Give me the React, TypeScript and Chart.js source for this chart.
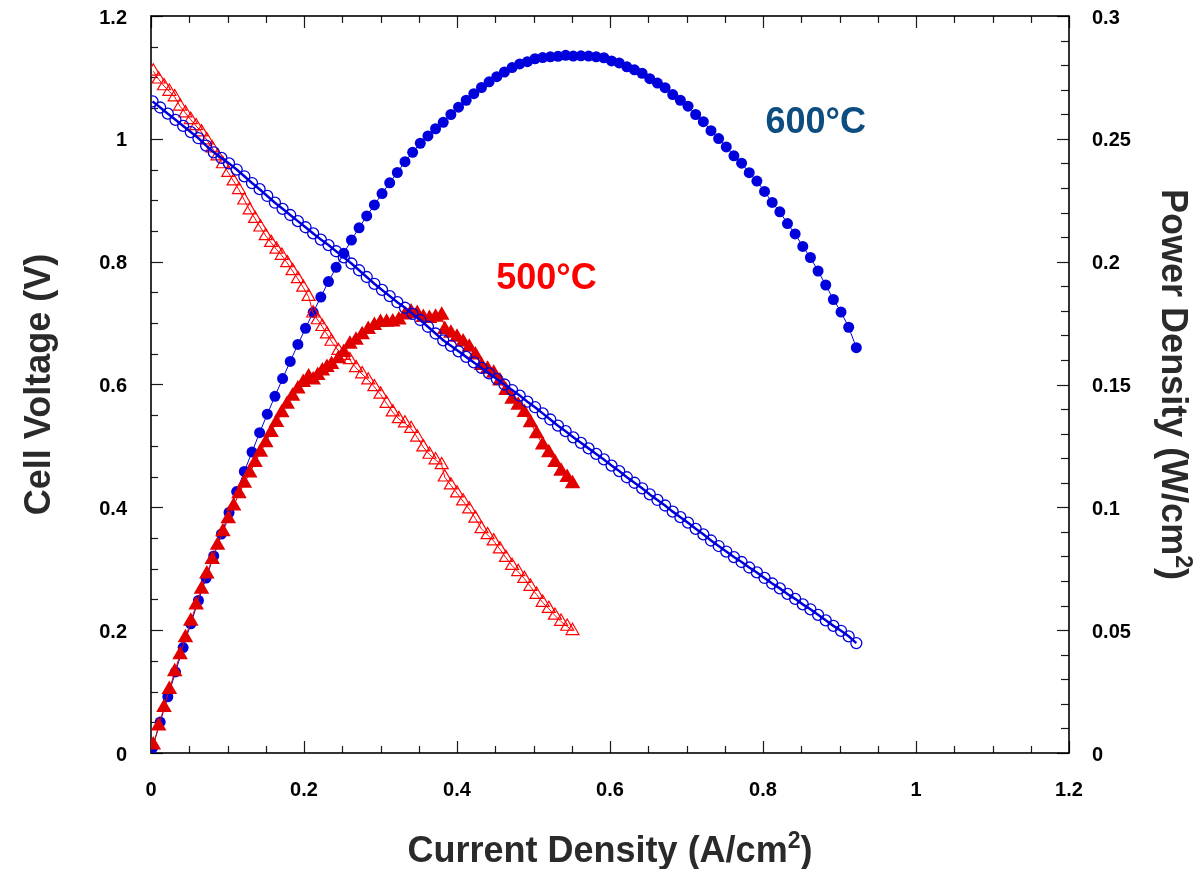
import { useEffect, useRef } from "react";
import { Chart, registerables } from "chart.js";

Chart.register(...registerables);

const FONT = "'Liberation Sans', Arial, Helvetica, sans-serif";

// 600 °C polarisation data
const currentDensity600 = [
  0.002, 0.012, 0.022, 0.032, 0.042, 0.052, 0.062, 0.072, 0.082, 0.092,
  0.102, 0.112, 0.122, 0.132, 0.142, 0.152, 0.162, 0.172, 0.182, 0.192,
  0.202, 0.212, 0.222, 0.232, 0.242, 0.252, 0.262, 0.272, 0.282, 0.292,
  0.302, 0.312, 0.322, 0.332, 0.342, 0.352, 0.362, 0.372, 0.382, 0.392,
  0.402, 0.412, 0.422, 0.432, 0.442, 0.452, 0.462, 0.472, 0.482, 0.492,
  0.502, 0.512, 0.522, 0.532, 0.542, 0.552, 0.562, 0.572, 0.582, 0.592,
  0.602, 0.612, 0.622, 0.632, 0.642, 0.652, 0.662, 0.672, 0.682, 0.692,
  0.702, 0.712, 0.722, 0.732, 0.742, 0.752, 0.762, 0.772, 0.782, 0.792,
  0.802, 0.812, 0.822, 0.832, 0.842, 0.852, 0.862, 0.872, 0.882, 0.892,
  0.902, 0.912, 0.922,
];
const cellVoltage600 = [
  1.061, 1.051, 1.041, 1.031, 1.021, 1.011, 1.001, 0.989, 0.978, 0.969,
  0.96, 0.95, 0.939, 0.928, 0.918, 0.907, 0.896, 0.886, 0.876, 0.866,
  0.856, 0.846, 0.836, 0.827, 0.817, 0.807, 0.797, 0.786, 0.775, 0.764,
  0.754, 0.744, 0.734, 0.725, 0.715, 0.705, 0.694, 0.683, 0.672, 0.663,
  0.654, 0.645, 0.636, 0.627, 0.618, 0.609, 0.6, 0.591, 0.582, 0.572,
  0.563, 0.553, 0.543, 0.533, 0.524, 0.514, 0.505, 0.496, 0.487, 0.478,
  0.468, 0.459, 0.449, 0.44, 0.431, 0.421, 0.412, 0.403, 0.393, 0.384,
  0.375, 0.365, 0.356, 0.346, 0.337, 0.328, 0.319, 0.311, 0.302, 0.294,
  0.285, 0.276, 0.268, 0.259, 0.251, 0.242, 0.234, 0.225, 0.216, 0.207,
  0.199, 0.19, 0.179,
];
const powerDensity600 = [
  0.0021, 0.0126, 0.0229, 0.033, 0.0429, 0.0526, 0.0621, 0.0712, 0.0802, 0.0891,
  0.0979, 0.1064, 0.1146, 0.1225, 0.1304, 0.1379, 0.1452, 0.1524, 0.1594, 0.1663,
  0.1729, 0.1794, 0.1856, 0.1919, 0.1977, 0.2034, 0.2088, 0.2138, 0.2186, 0.2231,
  0.2277, 0.2321, 0.2363, 0.2407, 0.2445, 0.2482, 0.2512, 0.2541, 0.2567, 0.2599,
  0.2629, 0.2657, 0.2684, 0.2709, 0.2732, 0.2753, 0.2772, 0.279, 0.2805, 0.2814,
  0.2826, 0.2831, 0.2834, 0.2836, 0.284, 0.2837, 0.2838, 0.2837, 0.2834, 0.283,
  0.2817, 0.2809, 0.2793, 0.2781, 0.2767, 0.2745, 0.2727, 0.2708, 0.268, 0.2657,
  0.2633, 0.2599, 0.257, 0.2533, 0.2501, 0.2467, 0.2431, 0.2401, 0.2362, 0.2328,
  0.2286, 0.2241, 0.2203, 0.2155, 0.2113, 0.2062, 0.2017, 0.1962, 0.1905, 0.1846,
  0.1795, 0.1733, 0.165,
];

// 500 °C polarisation data
const currentDensity500 = [
  0.003, 0.01, 0.017, 0.024, 0.031, 0.038, 0.045, 0.052, 0.059, 0.066,
  0.073, 0.08, 0.087, 0.094, 0.101, 0.108, 0.115, 0.122, 0.129, 0.136,
  0.143, 0.15, 0.157, 0.164, 0.171, 0.178, 0.185, 0.192, 0.199, 0.206,
  0.212, 0.218, 0.224, 0.23, 0.236, 0.245, 0.252, 0.26, 0.268, 0.276,
  0.284, 0.292, 0.3, 0.308, 0.316, 0.324, 0.332, 0.34, 0.348, 0.356,
  0.364, 0.372, 0.38, 0.384, 0.392, 0.4, 0.408, 0.416, 0.424, 0.432,
  0.44, 0.448, 0.456, 0.464, 0.472, 0.48, 0.488, 0.496, 0.504, 0.512,
  0.52, 0.528, 0.536, 0.544, 0.551,
];
const cellVoltage500 = [
  1.11, 1.097, 1.086, 1.077, 1.068, 1.053, 1.042, 1.031, 1.021, 1.011,
  0.998, 0.985, 0.972, 0.959, 0.945, 0.931, 0.917, 0.9, 0.884, 0.87,
  0.856, 0.842, 0.831, 0.82, 0.81, 0.798, 0.785, 0.772, 0.758, 0.743,
  0.716, 0.705, 0.694, 0.682, 0.67, 0.655, 0.647, 0.64, 0.627, 0.617,
  0.607, 0.596, 0.584, 0.569, 0.555, 0.544, 0.537, 0.528, 0.514, 0.498,
  0.486, 0.477, 0.469, 0.449, 0.436, 0.423, 0.41, 0.397, 0.382, 0.365,
  0.355, 0.345, 0.332, 0.318, 0.305, 0.295, 0.284, 0.271, 0.258, 0.245,
  0.235, 0.224, 0.214, 0.206, 0.199,
];
const powerDensity500 = [
  0.0033, 0.011, 0.0185, 0.0258, 0.0331, 0.04, 0.0469, 0.0536, 0.0602, 0.0667,
  0.0729, 0.0788, 0.0846, 0.0901, 0.0954, 0.1005, 0.1055, 0.1098, 0.114, 0.1183,
  0.1224, 0.1263, 0.1305, 0.1345, 0.1385, 0.142, 0.1452, 0.1482, 0.1508, 0.1531,
  0.1518, 0.1537, 0.1555, 0.1569, 0.1581, 0.1605, 0.163, 0.1664, 0.168, 0.1703,
  0.1724, 0.174, 0.1752, 0.1753, 0.1754, 0.1763, 0.1783, 0.1795, 0.1789, 0.1773,
  0.1769, 0.1774, 0.1782, 0.1724, 0.1709, 0.1692, 0.1673, 0.1652, 0.162, 0.1577,
  0.1562, 0.1546, 0.1514, 0.1476, 0.144, 0.1416, 0.1386, 0.1344, 0.13, 0.1254,
  0.1222, 0.1183, 0.1147, 0.1121, 0.1096,
];

// Axis ranges and label text
const xRange = [0, 1.2];
const voltageRange = [0, 1.2];
const powerRange = [0, 0.3];
const xTitle = ["Current Density (A/cm", "2", ")"];
const voltageTitle = ["Cell Voltage (V)", "", ""];
const powerTitle = ["Power Density (W/cm", "2", ")"];
const seriesNames = ["600°C", "500°C"];

const BLUE = "#0000dc";
const RED = "#ff0000";
const RED_FILL = "#e00000";
const TITLE_COLOR = "#2a2a2a";

const toPoints = (xs: number[], ys: number[]) => xs.map((x, i) => ({ x, y: ys[i] }));
const fmt = (v: number | string) => String(Number(Number(v).toFixed(3)));

// Title text with a raised exponent, centred on (0,0) of the current transform
function drawTitle(ctx: CanvasRenderingContext2D, parts: string[]) {
  const main = `bold 36px ${FONT}`;
  const sup = `bold 23px ${FONT}`;
  ctx.font = main;
  const w0 = ctx.measureText(parts[0]).width;
  const w2 = ctx.measureText(parts[2]).width;
  ctx.font = sup;
  const w1 = ctx.measureText(parts[1]).width;
  const total = w0 + w1 + w2;
  let x = -total / 2;
  ctx.textAlign = "left";
  ctx.textBaseline = "alphabetic";
  ctx.fillStyle = TITLE_COLOR;
  ctx.font = main;
  ctx.fillText(parts[0], x, 13);
  x += w0;
  ctx.font = sup;
  ctx.fillText(parts[1], x, -1);
  x += w1;
  ctx.font = main;
  ctx.fillText(parts[2], x, 13);
}

// Inward tick marks, the plot frame and the text on the plot
const framePlugin = {
  id: "frameTicks",
  beforeDatasetsDraw(chart: any) {
    const { ctx, chartArea: a, scales } = chart;
    const x = scales.x;
    const y = scales.y;
    const y1 = scales.y1;
    ctx.save();
    ctx.strokeStyle = "#1a1a1a";
    ctx.lineWidth = 1.2;
    // bottom / top ticks: major 0.2, minor 0.05
    for (let i = 0; i <= 24; i++) {
      const px = Math.round(x.getPixelForValue(i * 0.05)) + 0.5;
      const len = i % 4 === 0 ? 12 : 7;
      ctx.beginPath();
      ctx.moveTo(px, a.bottom);
      ctx.lineTo(px, a.bottom - len);
      ctx.moveTo(px, a.top);
      ctx.lineTo(px, a.top + len);
      ctx.stroke();
    }
    // left ticks: major 0.2, minor 0.05
    for (let i = 0; i <= 24; i++) {
      const py = Math.round(y.getPixelForValue(i * 0.05)) + 0.5;
      const len = i % 4 === 0 ? 12 : 7;
      ctx.beginPath();
      ctx.moveTo(a.left, py);
      ctx.lineTo(a.left + len, py);
      ctx.stroke();
    }
    // right ticks: major 0.05, minor 0.01
    for (let i = 0; i <= 30; i++) {
      const py = Math.round(y1.getPixelForValue(i * 0.01)) + 0.5;
      const len = i % 5 === 0 ? 12 : 8;
      ctx.beginPath();
      ctx.moveTo(a.right, py);
      ctx.lineTo(a.right - len, py);
      ctx.stroke();
    }
    ctx.strokeStyle = "#000";
    ctx.lineWidth = 1.6;
    ctx.strokeRect(a.left, a.top, a.right - a.left, a.bottom - a.top);
    ctx.restore();
  },
  afterDatasetsDraw(chart: any) {
    const { ctx, scales, chartArea: a, width, height } = chart;
    ctx.save();
    ctx.font = `bold 36px ${FONT}`;
    ctx.textAlign = "center";
    ctx.textBaseline = "middle";
    ctx.fillStyle = "#0d4d80";
    ctx.fillText(seriesNames[0], scales.x.getPixelForValue(0.869), scales.y.getPixelForValue(1.026));
    ctx.fillStyle = RED;
    ctx.fillText(seriesNames[1], scales.x.getPixelForValue(0.517), scales.y.getPixelForValue(0.772));
    ctx.restore();

    const midY = (a.top + a.bottom) / 2;
    // x-axis title
    ctx.save();
    ctx.translate((a.left + a.right) / 2, height - 20);
    drawTitle(ctx, xTitle);
    ctx.restore();
    // left title
    ctx.save();
    ctx.translate(37, midY);
    ctx.rotate(-Math.PI / 2);
    drawTitle(ctx, voltageTitle);
    ctx.restore();
    // right title
    ctx.save();
    ctx.translate(width - 26, midY);
    ctx.rotate(Math.PI / 2);
    drawTitle(ctx, powerTitle);
    ctx.restore();
  },
};

export default function App() {
  const canvasRef = useRef<HTMLCanvasElement | null>(null);

  useEffect(() => {
    const canvas = canvasRef.current;
    if (!canvas) return;
    const tickFont = { family: FONT, size: 20, weight: "bold" as const };
    const chart = new Chart(canvas, {
      type: "line",
      data: {
        datasets: [
          {
            label: "V 600",
            data: toPoints(currentDensity600, cellVoltage600),
            yAxisID: "y",
            borderColor: BLUE,
            borderWidth: 2.5,
            pointStyle: "circle",
            pointRadius: 5.5,
            pointBorderWidth: 1.3,
            pointBorderColor: BLUE,
            pointBackgroundColor: "rgba(255,255,255,0)",
            tension: 0,
          },
          {
            label: "P 500",
            data: toPoints(currentDensity500, powerDensity500),
            yAxisID: "y1",
            borderColor: RED_FILL,
            borderWidth: 1,
            pointStyle: "triangle",
            pointRadius: 9,
            pointBorderWidth: 0,
            pointBackgroundColor: RED_FILL,
            pointBorderColor: RED_FILL,
            tension: 0,
          },
          {
            label: "V 500",
            data: toPoints(currentDensity500, cellVoltage500),
            yAxisID: "y",
            borderColor: RED,
            borderWidth: 1,
            pointStyle: "triangle",
            pointRadius: 7.5,
            pointBorderWidth: 1.2,
            pointBorderColor: RED,
            pointBackgroundColor: "rgba(255,255,255,0)",
            tension: 0,
          },
          {
            label: "P 600",
            data: toPoints(currentDensity600, powerDensity600),
            yAxisID: "y1",
            borderColor: BLUE,
            borderWidth: 1,
            pointStyle: "circle",
            pointRadius: 5.5,
            pointBorderWidth: 0,
            pointBackgroundColor: BLUE,
            pointBorderColor: BLUE,
            tension: 0,
          },
        ],
      },
      options: {
        animation: false,
        responsive: false,
        maintainAspectRatio: false,
        layout: { padding: { top: 16, left: 0, right: 0, bottom: 0 } },
        plugins: { legend: { display: false }, tooltip: { enabled: false } },
        scales: {
          x: {
            type: "linear",
            position: "bottom",
            min: xRange[0],
            max: xRange[1],
            grid: { display: false, drawTicks: false },
            border: { display: false },
            ticks: { stepSize: 0.2, padding: 25, color: "#000", font: tickFont, callback: fmt, maxRotation: 0, autoSkip: false },
            afterFit: (s: any) => {
              s.height = 116;
              s.paddingLeft = 0;
              s.paddingRight = 0;
            },
          },
          y: {
            type: "linear",
            position: "left",
            min: voltageRange[0],
            max: voltageRange[1],
            grid: { display: false, drawTicks: false },
            border: { display: false },
            ticks: { stepSize: 0.2, padding: 24, labelOffset: 2, color: "#000", font: tickFont, callback: fmt },
            afterFit: (s: any) => {
              s.width = 151;
              s.paddingTop = 0;
              s.paddingBottom = 0;
            },
          },
          y1: {
            type: "linear",
            position: "right",
            min: powerRange[0],
            max: powerRange[1],
            grid: { display: false, drawTicks: false },
            border: { display: false },
            ticks: { stepSize: 0.05, padding: 23, labelOffset: 2, color: "#000", font: tickFont, callback: fmt },
            afterFit: (s: any) => {
              s.width = 132;
              s.paddingTop = 0;
              s.paddingBottom = 0;
            },
          },
        },
      },
      plugins: [framePlugin],
    } as any);
    return () => chart.destroy();
  }, []);

  return (
    <div style={{ position: "fixed", left: 0, top: 0, width: 1201, height: 869, background: "#fff" }}>
      <canvas ref={canvasRef} width={1201} height={869} style={{ width: 1201, height: 869, display: "block" }} />
    </div>
  );
}
